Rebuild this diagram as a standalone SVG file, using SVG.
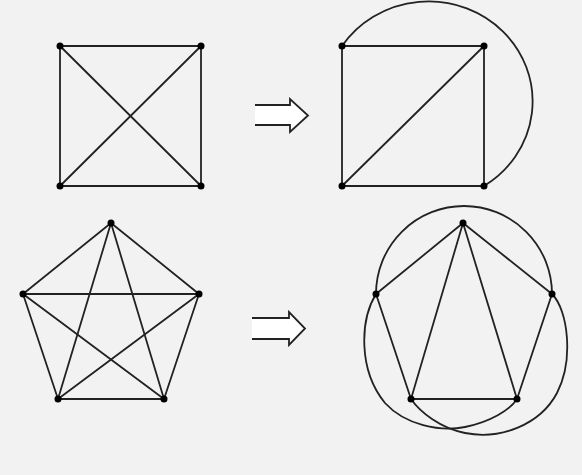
<svg xmlns="http://www.w3.org/2000/svg" width="582" height="475" viewBox="0 0 582 475">
<style>
.e{stroke:#222;stroke-width:1.8;fill:none;stroke-linecap:round}
.n{fill:#000}
.ar{fill:#fff;stroke:#222;stroke-width:1.8;stroke-linejoin:miter}
</style>
<rect width="582" height="475" fill="#f2f2f2"/>
<g id="connectors">
<!-- K4 -->
<line class="e" x1="60" y1="46" x2="201" y2="46"/>
<line class="e" x1="60" y1="186" x2="201" y2="186"/>
<line class="e" x1="60" y1="46" x2="60" y2="186"/>
<line class="e" x1="201" y1="46" x2="201" y2="186"/>
<line class="e" x1="60" y1="46" x2="201" y2="186"/>
<line class="e" x1="201" y1="46" x2="60" y2="186"/>
<!-- planar K4 -->
<line class="e" x1="342" y1="46" x2="484" y2="46"/>
<line class="e" x1="342" y1="186" x2="484" y2="186"/>
<line class="e" x1="342" y1="46" x2="342" y2="186"/>
<line class="e" x1="484" y1="46" x2="484" y2="186"/>
<line class="e" x1="484" y1="46" x2="342" y2="186"/>
<path class="e" d="M342,46 A104 100 0 1 1 484,186"/>
<!-- K5 -->
<line class="e" x1="111" y1="223" x2="23" y2="294"/>
<line class="e" x1="111" y1="223" x2="199" y2="294"/>
<line class="e" x1="111" y1="223" x2="58" y2="399"/>
<line class="e" x1="111" y1="223" x2="164" y2="399"/>
<line class="e" x1="23" y1="294" x2="199" y2="294"/>
<line class="e" x1="23" y1="294" x2="58" y2="399"/>
<line class="e" x1="23" y1="294" x2="164" y2="399"/>
<line class="e" x1="199" y1="294" x2="58" y2="399"/>
<line class="e" x1="199" y1="294" x2="164" y2="399"/>
<line class="e" x1="58" y1="399" x2="164" y2="399"/>
<!-- K5 drawn with curves -->
<line class="e" x1="463" y1="223" x2="376" y2="294"/>
<line class="e" x1="463" y1="223" x2="552" y2="294"/>
<line class="e" x1="463" y1="223" x2="411" y2="399"/>
<line class="e" x1="463" y1="223" x2="517" y2="399"/>
<line class="e" x1="376" y1="294" x2="411" y2="399"/>
<line class="e" x1="552" y1="294" x2="517" y2="399"/>
<line class="e" x1="411" y1="399" x2="517" y2="399"/>
<path class="e" d="M376,294 A88 88 0 0 1 552,294"/>
<path class="e" d="M376,294 C360,320 358,370 385,403 C405,425 440,432 465,427 C490,422 510,410 517,399"/>
<path class="e" d="M552,294 C568,310 574,360 557,393 C540,425 500,440 465,433 C440,428 420,412 411,399"/>
</g>
<g id="arrow1"><path class="ar" d="M255,105 H290 V99 L308,115.5 L290,132 V125 H255"/></g>
<g id="arrow2"><path class="ar" d="M252,318 H289 V312 L305,328.5 L289,345 V339 H252"/></g>
<g id="k4-nodes">
<circle class="n" cx="60" cy="46" r="3.5"/><circle class="n" cx="201" cy="46" r="3.5"/>
<circle class="n" cx="60" cy="186" r="3.5"/><circle class="n" cx="201" cy="186" r="3.5"/>
</g>
<g id="k4-planar-nodes">
<circle class="n" cx="342" cy="46" r="3.5"/><circle class="n" cx="484" cy="46" r="3.5"/>
<circle class="n" cx="342" cy="186" r="3.5"/><circle class="n" cx="484" cy="186" r="3.5"/>
</g>
<g id="k5-nodes">
<circle class="n" cx="111" cy="223" r="3.5"/><circle class="n" cx="23" cy="294" r="3.5"/>
<circle class="n" cx="199" cy="294" r="3.5"/><circle class="n" cx="58" cy="399" r="3.5"/>
<circle class="n" cx="164" cy="399" r="3.5"/>
</g>
<g id="k5-curved-nodes">
<circle class="n" cx="463" cy="223" r="3.5"/><circle class="n" cx="376" cy="294" r="3.5"/>
<circle class="n" cx="552" cy="294" r="3.5"/><circle class="n" cx="411" cy="399" r="3.5"/>
<circle class="n" cx="517" cy="399" r="3.5"/>
</g>
</svg>
